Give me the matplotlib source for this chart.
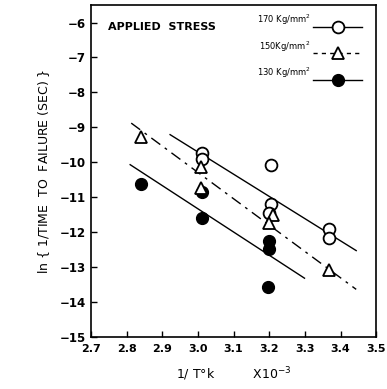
import matplotlib
matplotlib.use("Agg")
import matplotlib.pyplot as plt
import numpy as np

# Data
x170 = [3.012, 3.012, 3.206, 3.206, 3.200, 3.369, 3.369]
y170 = [-9.73, -9.92, -10.09, -11.20, -11.46, -11.92, -12.18]

x150 = [2.841, 3.010, 3.010, 3.211, 3.200, 3.369]
y150 = [-9.28, -10.13, -10.75, -11.51, -11.73, -13.09]

x130 = [2.841, 3.012, 3.012, 3.200, 3.200, 3.198]
y130 = [-10.61, -10.85, -11.61, -12.25, -12.47, -13.58]

# Fit lines (end points)
line170_x = [2.922, 3.444]
line170_y = [-9.21, -12.53]
line150_x = [2.813, 3.444]
line150_y = [-8.88, -13.64]
line130_x = [2.810, 3.299]
line130_y = [-10.07, -13.32]

xticks = [2.7, 2.8, 2.9, 3.0, 3.1, 3.2, 3.3, 3.4, 3.5]
xticklabels = ["2.7", "2.8", "2.9", "3.0", "3.1", "3.2", "3.3", "3.4", "3.5"]
yticks = [-15, -14, -13, -12, -11, -10, -9, -8, -7, -6]
yticklabels = ["−15", "−14", "−13", "−12", "−11", "−10", "−9", "−8", "−7", "−6"]

fig = plt.figure(figsize=(3.87, 3.89), dpi=100)
ax = fig.add_axes([0.235, 0.134, 0.737, 0.853])

ax.plot(line170_x, line170_y, color="black", lw=1.0)
ax.plot(line150_x, line150_y, color="black", lw=1.0, linestyle=(0, (8, 4, 2, 4)))
ax.plot(line130_x, line130_y, color="black", lw=1.0)

ms = 8.5
ax.plot(x170, y170, "o", mfc="white", mec="black", mew=1.3, ms=ms, zorder=3)
ax.plot(x130, y130, "o", mfc="black", mec="black", ms=ms, zorder=3)
ax.plot(x150, y150, "^", mfc="white", mec="black", mew=1.3, ms=ms, zorder=4)

ax.set_xlim(2.7, 3.5)
ax.set_ylim(-15, -5.5)
ax.set_xticks(xticks)
ax.set_xticklabels(xticklabels, fontsize=8, fontweight="bold")
ax.set_yticks(yticks)
ax.set_yticklabels(yticklabels, fontsize=8.5, fontweight="bold")
ax.tick_params(direction="in", length=4, width=1)
ax.tick_params(axis="x", pad=5)
for s in ax.spines.values():
    s.set_linewidth(1.2)

# Legend drawn manually in axes coords
ax.text(0.06, 0.935, "APPLIED  STRESS", transform=ax.transAxes, fontsize=8,
        fontweight="bold", va="center", ha="left")
leg_y = [0.935, 0.855, 0.775]
leg_labels = ["170 Kg/mm$^2$", "150Kg/mm$^2$", "130 Kg/mm$^2$"]
for yy, lab in zip(leg_y, leg_labels):
    ax.text(0.77, yy + 0.02, lab, transform=ax.transAxes, fontsize=6,
            ha="right", va="center")
ax.plot([0.78, 0.95], [leg_y[0]] * 2, color="black", lw=1.0, transform=ax.transAxes)
ax.plot([0.865], [leg_y[0]], "o", mfc="white", mec="black", mew=1.3, ms=ms,
        transform=ax.transAxes)
ax.plot([0.78, 0.95], [leg_y[1]] * 2, color="black", lw=1.0,
        linestyle=(0, (3, 3)), transform=ax.transAxes)
ax.plot([0.865], [leg_y[1]], "^", mfc="white", mec="black", mew=1.3, ms=ms,
        transform=ax.transAxes)
ax.plot([0.78, 0.95], [leg_y[2]] * 2, color="black", lw=1.0, transform=ax.transAxes)
ax.plot([0.865], [leg_y[2]], "o", mfc="black", mec="black", ms=ms,
        transform=ax.transAxes)

ax.set_xlabel("1/ T°k          X10$^{-3}$", fontsize=9, labelpad=8)
ax.set_ylabel("ln $\\{$ 1/TIME  TO  FAILURE (SEC) $\\}$", fontsize=9, labelpad=6)

fig.savefig("out.png", dpi=100)
